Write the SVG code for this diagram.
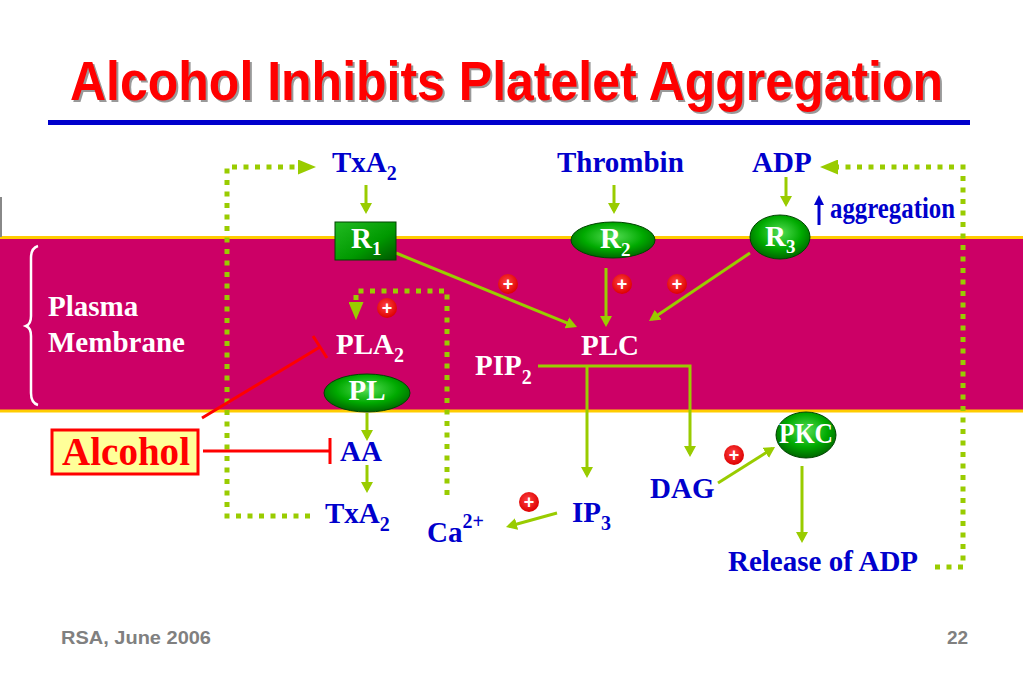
<svg xmlns="http://www.w3.org/2000/svg" width="1023" height="682" viewBox="0 0 1023 682">
<style>
.lbl{font-family:"Liberation Serif","Times New Roman",serif;font-weight:bold;font-size:29px;fill:#0000CC}
.wl{font-family:"Liberation Serif","Times New Roman",serif;font-weight:bold;font-size:29px;fill:#FFFFFF}
.sub{font-size:20px}
.arr{fill:none;stroke:#99CC00;stroke-width:3;marker-end:url(#ah)}
.dota{fill:none;stroke:#99CC00;stroke-width:5;stroke-dasharray:5 6.5;marker-end:url(#dh)}
.inh{fill:none;stroke:#FF0000;stroke-width:3}
.pc{fill:url(#redg)}
.pt{font-family:"Liberation Sans",Arial,sans-serif;font-weight:bold;font-size:18px;fill:#FFFFFF;text-anchor:middle}
.node{stroke:#004400;stroke-width:1}
.foot{font-family:"Liberation Sans",Arial,sans-serif;font-weight:bold;font-size:19px;fill:#808080}
.ttl{font-family:"Liberation Sans",Arial,sans-serif;font-weight:bold;font-size:50px}
</style>
<defs>
<marker id="ah" viewBox="0 0 11 12" markerWidth="11" markerHeight="12" refX="8" refY="6" orient="auto" markerUnits="userSpaceOnUse">
<path d="M0,0 L11,6 L0,12 z" fill="#99CC00"/>
</marker>
<marker id="dh" viewBox="0 0 18 15" markerWidth="18" markerHeight="15" refX="4" refY="7.5" orient="auto" markerUnits="userSpaceOnUse">
<path d="M0,0 L18,7.5 L0,15 z" fill="#99CC00"/>
</marker>
<marker id="bh" viewBox="0 0 10 10" markerWidth="10" markerHeight="10" refX="3" refY="5" orient="auto" markerUnits="userSpaceOnUse">
<path d="M0,0 L10,5 L0,10 z" fill="#0000CC"/>
</marker>
<radialGradient id="gg" cx="50%" cy="40%" r="60%">
<stop offset="0" stop-color="#55DD55"/>
<stop offset="0.6" stop-color="#00AA00"/>
<stop offset="1" stop-color="#006600"/>
</radialGradient>
<linearGradient id="rg" x1="0" y1="0" x2="1" y2="1">
<stop offset="0" stop-color="#22BB22"/>
<stop offset="0.6" stop-color="#009900"/>
<stop offset="1" stop-color="#005500"/>
</linearGradient>
<radialGradient id="redg" cx="45%" cy="40%" r="60%">
<stop offset="0" stop-color="#FF4444"/>
<stop offset="1" stop-color="#DD0000"/>
</radialGradient>
</defs>

<rect width="1023" height="682" fill="#FFFFFF"/>

<g id="title">
<text class="ttl" transform="translate(72,102) scale(1,1.12)" x="0" y="0" fill="#999999">Alcohol Inhibits Platelet Aggregation</text>
<text class="ttl" transform="translate(70,100) scale(1,1.12)" x="0" y="0" fill="#FF0000">Alcohol Inhibits Platelet Aggregation</text>
<rect x="48" y="120" width="922" height="5" fill="#0000CC"/>
</g>

<g id="membrane">
<rect x="0" y="238" width="1023" height="173" fill="#CC0066"/>
<line x1="0" y1="237.5" x2="1023" y2="237.5" stroke="#FFCC00" stroke-width="3"/>
<line x1="0" y1="411" x2="1023" y2="411" stroke="#FFCC00" stroke-width="3"/>
<rect x="0" y="197" width="2" height="40" fill="#888888"/>
<path d="M38,246 Q31,248 31,258 V316 Q31,324 26,326 Q31,328 31,336 V393 Q31,403 38,405" fill="none" stroke="#FFFFFF" stroke-width="2.5"/>
<text class="wl" x="48" y="316">Plasma</text>
<text class="wl" x="48" y="352">Membrane</text>
</g>

<g id="connectors">
<path class="dota" d="M310,516 H227 V167 H302"/>
<path class="dota" d="M935,567 H963 V167 H834"/>
<path class="dota" d="M447,495 V291 H356 V306"/>
<path class="arr" d="M366,185 V211"/>
<path class="arr" d="M614,185 V211"/>
<path class="arr" d="M786,177 V204"/>
<path class="arr" d="M396,253 L574.2,325.9"/>
<path class="arr" d="M606,268 V324"/>
<path class="arr" d="M750,253 L651.5,319.3"/>
<path class="arr" d="M538,366 H690 V454"/>
<path class="arr" d="M587,366 V475"/>
<path class="arr" d="M367,413 V438"/>
<path class="arr" d="M367,465 V490"/>
<path class="arr" d="M557,513 L508.9,526.2"/>
<path class="arr" d="M718,483 L772.5,448.6"/>
<path class="arr" d="M802,466 V540"/>
<path d="M819,225 V202" fill="none" stroke="#0000CC" stroke-width="3" marker-end="url(#bh)"/>
<path class="inh" d="M203,451 H330 M330,438 V464"/>
<path class="inh" d="M202,418 L320,347 M313,336 L327,358"/>
</g>

<g id="txa2-top"><text class="lbl" x="332" y="172">TxA<tspan class="sub" dy="8">2</tspan></text></g>
<g id="thrombin"><text class="lbl" x="557" y="172">Thrombin</text></g>
<g id="adp"><text class="lbl" x="752" y="172">ADP</text></g>
<g id="aggregation"><text class="lbl" x="830" y="218" font-size="21" textLength="125" lengthAdjust="spacingAndGlyphs">aggregation</text></g>

<g id="r1">
<rect class="node" x="335" y="222" width="61" height="38" fill="url(#rg)"/>
<text class="wl" x="351" y="248" font-size="27">R<tspan font-size="19" dy="7">1</tspan></text>
</g>
<g id="r2">
<ellipse class="node" cx="613" cy="240" rx="42" ry="18" fill="url(#gg)"/>
<text class="wl" x="600" y="248" font-size="27">R<tspan font-size="19" dy="8">2</tspan></text>
</g>
<g id="r3">
<ellipse class="node" cx="780" cy="237" rx="30" ry="22" fill="url(#gg)"/>
<text class="wl" x="765" y="246" font-size="27">R<tspan font-size="19" dy="7">3</tspan></text>
</g>

<g id="pla2"><text class="wl" x="336" y="354">PLA<tspan class="sub" dy="8">2</tspan></text></g>
<g id="pl">
<ellipse class="node" cx="367" cy="393" rx="43" ry="19" fill="url(#gg)"/>
<text class="wl" x="367" y="400" font-size="22" text-anchor="middle">PL</text>
</g>
<g id="plc"><text class="wl" x="581" y="355">PLC</text></g>
<g id="pip2"><text class="wl" x="475" y="375">PIP<tspan class="sub" dy="9">2</tspan></text></g>

<g id="alcohol">
<rect x="52" y="430" width="146" height="44" fill="#FFFF99" stroke="#FF0000" stroke-width="3"/>
<text x="62" y="465" font-family="'Liberation Serif','Times New Roman',serif" font-weight="bold" font-size="39" fill="#FF0000" textLength="128" lengthAdjust="spacingAndGlyphs">Alcohol</text>
</g>

<g id="aa"><text class="lbl" x="340" y="461">AA</text></g>
<g id="txa2-bottom"><text class="lbl" x="325" y="523">TxA<tspan class="sub" dy="8">2</tspan></text></g>
<g id="ca"><text class="lbl" x="427" y="542" font-size="32">Ca<tspan font-size="20" dy="-14">2+</tspan></text></g>
<g id="ip3"><text class="lbl" x="572" y="522">IP<tspan class="sub" dy="8">3</tspan></text></g>
<g id="dag"><text class="lbl" x="650" y="498">DAG</text></g>
<g id="pkc">
<ellipse class="node" cx="806" cy="435" rx="30" ry="23" fill="url(#gg)"/>
<text class="wl" x="806" y="443" font-size="22" text-anchor="middle" textLength="54" lengthAdjust="spacingAndGlyphs">PKC</text>
</g>
<g id="release"><text class="lbl" x="728" y="571">Release of ADP</text></g>

<g id="plus-signs">
<circle class="pc" cx="508" cy="284" r="10"/><text class="pt" x="508" y="290">+</text>
<circle class="pc" cx="622" cy="284" r="10"/><text class="pt" x="622" y="290">+</text>
<circle class="pc" cx="677" cy="284" r="10"/><text class="pt" x="677" y="290">+</text>
<circle class="pc" cx="387" cy="308" r="10"/><text class="pt" x="387" y="314">+</text>
<circle class="pc" cx="734" cy="455" r="10"/><text class="pt" x="734" y="461">+</text>
<circle class="pc" cx="529" cy="502" r="10"/><text class="pt" x="529" y="508">+</text>
</g>

<g id="footer">
<text class="foot" x="61" y="644" textLength="150" lengthAdjust="spacingAndGlyphs">RSA, June 2006</text>
<text class="foot" x="947" y="644">22</text>
</g>
</svg>
